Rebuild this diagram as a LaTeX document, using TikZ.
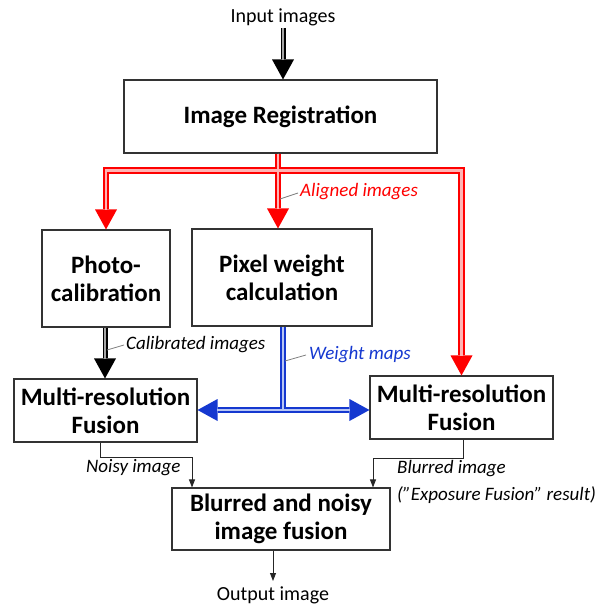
\documentclass[tikz,border=0pt]{standalone}
\usepackage{fontspec}
\setmainfont{Carlito}
\usetikzlibrary{arrows.meta,calc}
\definecolor{myred}{HTML}{FF0000}
\definecolor{mypink}{HTML}{FFB4B4}
\definecolor{myblue}{HTML}{1538D0}
\definecolor{mylblue}{HTML}{B8C6F4}
\definecolor{boxline}{HTML}{333333}
\tikzset{
  box/.style={draw=boxline, line width=1.1pt, fill=white, align=center, inner sep=2pt,
    font=\fontsize{25}{28}\selectfont\bfseries},
  bigtip/.style={-{Triangle[width=22pt,length=20pt,line width=0pt]}},
  redout/.style={line width=6.5pt, myred, bigtip},
  redin/.style={line width=2.2pt, mypink, shorten >=19pt},
  blkout/.style={line width=5pt, black, bigtip},
  blkin/.style={line width=1.4pt, gray!70, shorten >=19pt},
  blueout/.style={line width=5.5pt, myblue},
  bluein/.style={line width=1.8pt, mylblue},
  thin/.style={line width=0.9pt, black!85, -{Triangle[width=6pt,length=8pt]}},
  leader/.style={line width=0.8pt, gray},
  lbl/.style={font=\fontsize{20}{22}\selectfont, inner sep=0pt},
  ilbl/.style={font=\fontsize{19}{21}\selectfont\itshape, inner sep=0pt, anchor=west},
}
\begin{document}
\begin{tikzpicture}[x=1pt,y=-1pt]
\useasboundingbox (0,0) rectangle (596,607);
% boxes
\node[box, minimum width=313pt, minimum height=73pt] (reg) at (280.5,116.5) {Image Registration};
\node[box, minimum width=128pt, minimum height=97pt] (photo) at (106,278.5) {Photo-\\calibration};
\node[box, minimum width=180pt, minimum height=97pt] (pix) at (282,277.5) {Pixel weight\\calculation};
\node[box, minimum width=183pt, minimum height=63pt] (mr1) at (105.5,410.5) {Multi-resolution\\Fusion};
\node[box, minimum width=183pt, minimum height=63pt] (mr2) at (461.5,407.5) {Multi-resolution\\Fusion};
\node[box, minimum width=218pt, minimum height=62pt] (fuse) at (281,519) {Blurred and noisy\\image fusion};
% texts
\node[lbl] (inl) at (283,17) {Input images};
\node[lbl] (outl) at (273,595) {Output image};
\coordinate (inpt) at (283,28);
\coordinate (outpt) at (273,581);
% input arrow
\draw[blkout] (inpt) -- (inpt |- reg.north);
\draw[blkin] (inpt) -- (inpt |- reg.north);
% red network
\coordinate (rs) at ($(reg.south)+(-2.5,0)$);
\draw[redout] (rs) -- ++(0,17) -| (photo.north);
\draw[redout] (rs) -- ++(0,17) -| (mr2.north);
\draw[redout] (rs) -- (rs |- pix.north);
\draw[redin] (rs) -- ++(0,17) -| (photo.north);
\draw[redin] (rs) -- ++(0,17) -| (mr2.north);
\draw[redin] (rs) -- (rs |- pix.north);
\draw[leader] (280,199) -- (298,193);
\node[ilbl, text=myred] (al) at (300,192) {Aligned images};
% calibrated
\coordinate (ps) at ($(photo.south)+(-1,0)$);
\draw[blkout] (ps) -- (ps |- mr1.north);
\draw[blkin] (ps) -- (ps |- mr1.north);
\draw[leader] (107,350) -- (124,345);
\node[ilbl] (cl) at (126,345) {Calibrated images};
% blue network
\coordinate (bs) at ($(pix.south)+(1,0)$);
\coordinate (bj) at (283,410);
\draw[blueout] (bs) -- (bj);
\draw[blueout, bigtip] (bj) -- (bj -| mr1.east);
\draw[blueout, bigtip] (bj) -- (bj -| mr2.west);
\draw[bluein] (bs) -- (bj);
\draw[bluein, shorten >=19pt] (bj) -- (bj -| mr1.east);
\draw[bluein, shorten >=19pt] (bj) -- (bj -| mr2.west);
\draw[leader] (285,361) -- (306,355);
\node[ilbl, text=myblue] (wl) at (309,355) {Weight maps};
% thin arrows
\coordinate (m1s) at ($(mr1.south)+(-5.5,0)$);
\coordinate (f1) at ($(fuse.north)+(-89,0)$);
\draw[thin] (m1s) -- ++(0,15) -| (f1);
\coordinate (m2s) at ($(mr2.south)+(1.5,0)$);
\coordinate (f2) at ($(fuse.north)+(92,0)$);
\draw[thin] (m2s) -- ++(0,19) -| (f2);
\node[ilbl] (nl) at (86,468) {Noisy image};
\node[ilbl] (bl) at (397,469) {Blurred image};
\node[ilbl] (el) at (397,495) {(''Exposure Fusion'' result)};
\draw[thin] ($(fuse.south)+(-8,0)$) -- (outpt);
\end{tikzpicture}
\end{document}
